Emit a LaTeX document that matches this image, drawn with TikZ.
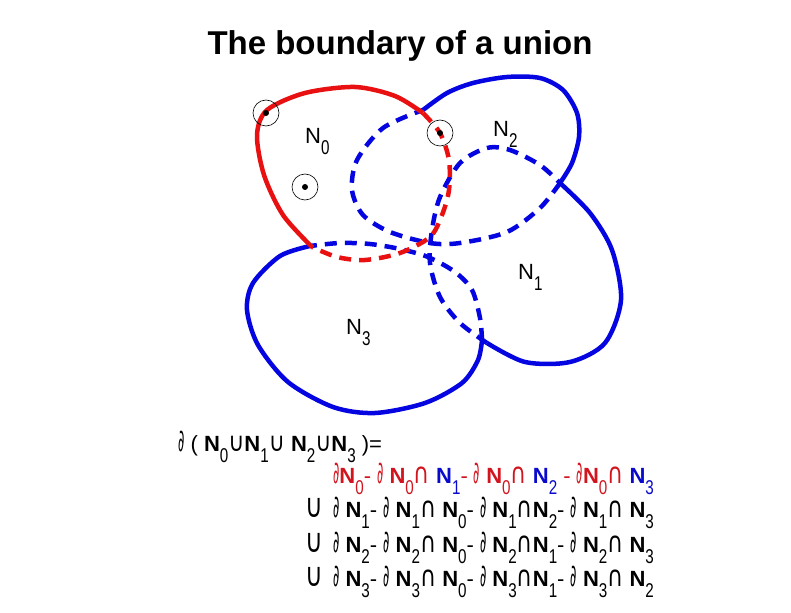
\documentclass[tikz,border=0pt]{standalone}
\usepackage{graphicx}
\usepackage{fontspec}
\setmainfont{Liberation Sans}
\newfontfamily\symfont{DejaVu Sans}
\usetikzlibrary{positioning}

\definecolor{setred}{RGB}{232,16,16}
\definecolor{setblue}{RGB}{5,5,225}
\definecolor{txtred}{RGB}{210,20,30}
\definecolor{txtblue}{RGB}{10,10,205}

\newcommand{\subn}[1]{\raisebox{-11pt}{\scalebox{0.8}[1.05]{\fontsize{19}{19}\selectfont#1}}}
\newcommand{\nset}[1]{\textbf{N}\subn{#1}}
\newcommand{\nlab}[1]{N\subn{#1}}
\newcommand{\bd}{\scalebox{0.55}[1.4]{\symfont ∂}}
\newcommand{\capn}{\scalebox{1}[1.3]{\symfont ∩}}
\newcommand{\cupn}{\scalebox{1}[1.2]{\symfont ∪}}

\begin{document}
\begin{tikzpicture}[x=1pt, y=-1pt,
    bnd/.style={line width=4.5pt},
    hid/.style={bnd, dash pattern=on 12pt off 8pt},
    ring/.style={draw, circle, line width=0.6pt, minimum size=26pt, inner sep=0pt},
    dot/.style={fill, circle, minimum size=6pt, inner sep=0pt},
    lab/.style={anchor=base west, inner sep=0pt, font=\fontsize{22}{22}\selectfont}
  ]
  \useasboundingbox (0,0) rectangle (791,612);
  \node[anchor=base, font=\bfseries\fontsize{33}{33}\selectfont] (title) at (400,55)
    {The boundary of a union};

  \draw[bnd, setblue] plot[smooth] coordinates {(423,110) (447,93) (473,83) (507,77)
    (540,78) (563,90) (577,113) (579,137) (572,163) (560,183)};
  \draw[hid, setblue] plot[smooth] coordinates {(560,183) (540,208) (507,232) (460,243)
    (430,243) (390,232) (363,215) (352,190) (357,160) (383,128) (423,110)};
  \draw[bnd, setblue] plot[smooth] coordinates {(560,183) (590,213) (612,250) (621,300)
    (605,343) (570,362) (525,362) (487,343)};
  \draw[hid, setblue] plot[smooth] coordinates {(487,343) (460,323) (440,297) (430,263)
    (432,230) (440,197) (460,163) (487,148) (510,150) (540,165) (560,183)};
  \draw[bnd, setblue] plot[smooth] coordinates {(310,246) (280,256) (253,283) (247,310)
    (258,345) (288,382) (333,407) (375,413) (425,403) (462,383) (478,360) (482,340)};
  \draw[hid, setblue] plot[smooth] coordinates {(482,340) (480,318) (472,290) (455,272)
    (428,257) (400,249) (370,244) (340,243) (310,246)};
  \draw[bnd, setred] plot[smooth] coordinates {(312,247) (283,215) (264,175) (257,135)
    (267,110) (305,93) (355,87) (395,96) (423,113)};
  \draw[hid, setred] plot[smooth] coordinates {(423,113) (440,133) (449,160) (449,190)
    (442,215) (430,237) (400,253) (365,260) (337,257) (312,247)};

  \foreach \p/\q [count=\k] in {266/113, 440/133, 305/187} {
    \node[ring] (ring\k) at (\p,\q) {};
    \node[dot] (dot\k) at (ring\k.center) {};
  }

  \node[lab] (n0) at (305,144) {\nlab{0}};
  \node[lab] (n2) at (493,137) {\nlab{2}};
  \node[lab] (n1) at (518,279) {\nlab{1}};
  \node[lab] (n3) at (346,334) {\nlab{3}};

  \node[lab] (lhs) at (178,451)
    {\bd\ (\ \nset{0}\cupn\nset{1}\cupn\ \nset{2}\cupn\nset{3}\ )=};
  \node[lab, txtred] (row0) at (333,483)
    {\bd\nset{0}- \bd\ \nset{0}\capn\ \textcolor{txtblue}{\nset{1}}- \bd\ \nset{0}\capn\
     \textcolor{txtblue}{\nset{2}} - \bd\nset{0}\capn\ \textcolor{txtblue}{\nset{3}}};
  \foreach \i/\a/\b/\c [count=\r] in {1/0/2/3, 2/0/1/3, 3/0/1/2} {
    \node[lab] (cup\i) at (305,{483+34.5*\r}) {\scalebox{1.1}[1.5]{\symfont ∪}};
    \node[lab] (row\i) at (333,{483+34.5*\r})
      {\bd\ \nset{\i}- \bd\ \nset{\i}\capn\ \nset{\a}- \bd\ \nset{\i}\capn\nset{\b}-
       \bd\ \nset{\i}\capn\ \nset{\c}};
  }
\end{tikzpicture}
\end{document}
